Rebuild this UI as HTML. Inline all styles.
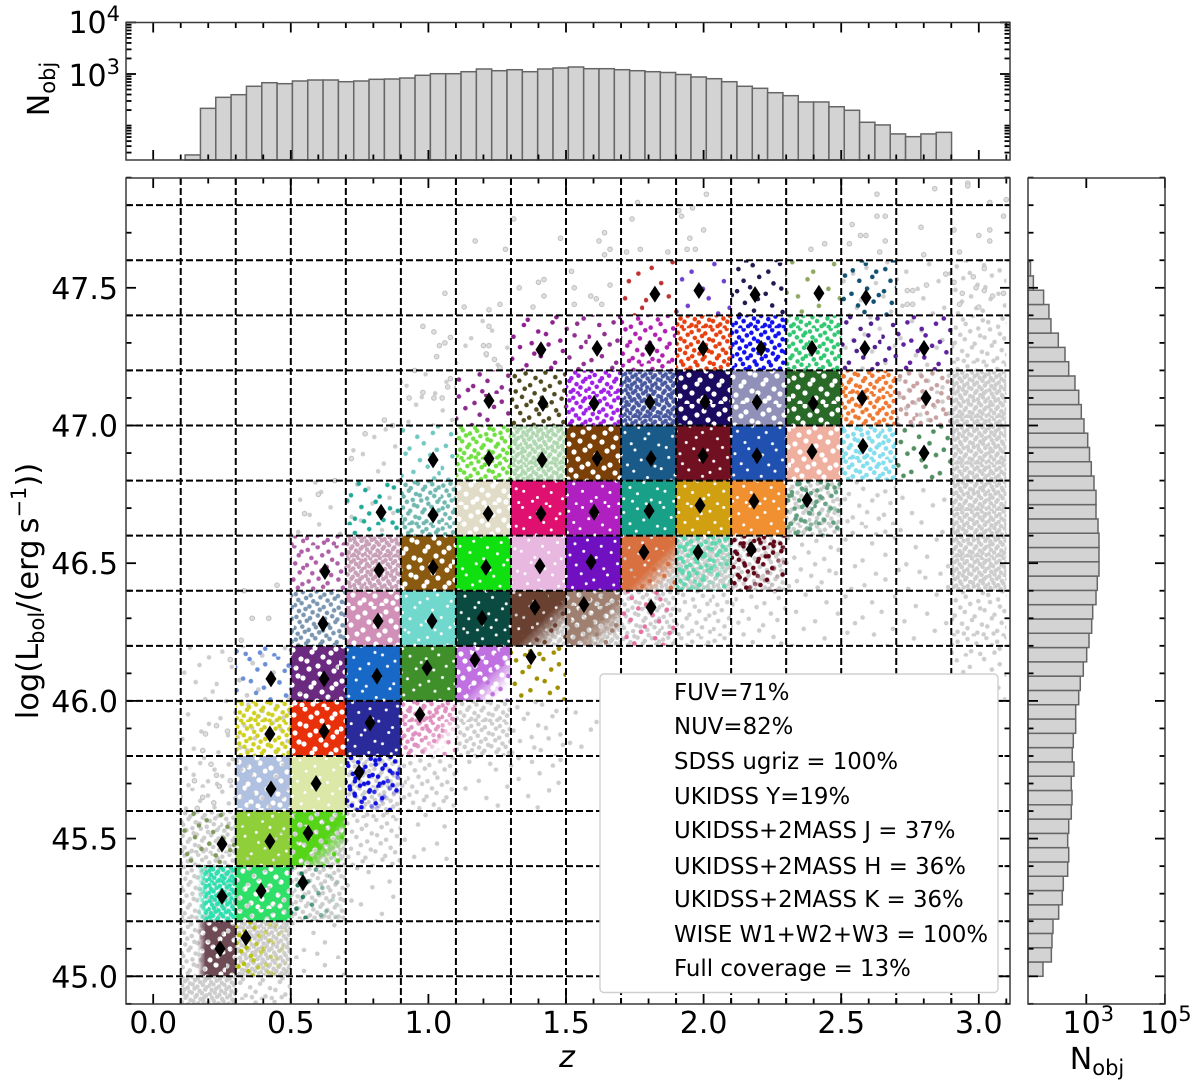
<!DOCTYPE html>
<html lang="en">
<head>
<meta charset="utf-8">
<title>Luminosity versus redshift binned scatter</title>
<style>
html,body{margin:0;padding:0;background:#fff;width:1200px;height:1091px;overflow:hidden}
svg{display:block}
text{font-family:"DejaVu Sans","Liberation Sans",sans-serif;fill:#000}
</style>
</head>
<body>
<svg id="fig" xmlns="http://www.w3.org/2000/svg" width="1200" height="1091" viewBox="0 0 1200 1091">
  <defs id="defs">
    <clipPath id="plotClip"><rect x="126" y="178" width="884" height="826"/></clipPath>
    <linearGradient id="gBR" x1="0.35" y1="0.35" x2="1" y2="1"><stop offset="0.3" stop-color="#fff"/><stop offset="0.75" stop-color="#000"/></linearGradient>
    <linearGradient id="gL" x1="1" y1="0" x2="0" y2="0"><stop offset="0.55" stop-color="#fff"/><stop offset="0.7" stop-color="#000"/></linearGradient>
    <linearGradient id="gR" x1="0" y1="0" x2="1" y2="0"><stop offset="0.2" stop-color="#fff"/><stop offset="1" stop-color="#000"/></linearGradient>
    <mask id="fade1" maskUnits="objectBoundingBox" maskContentUnits="objectBoundingBox" x="0" y="0" width="1" height="1"><rect width="1" height="1" fill="url(#gBR)"/></mask>
    <mask id="fade2" maskUnits="objectBoundingBox" maskContentUnits="objectBoundingBox" x="0" y="0" width="1" height="1"><rect width="1" height="1" fill="url(#gL)"/></mask>
    <mask id="fade3" maskUnits="objectBoundingBox" maskContentUnits="objectBoundingBox" x="0" y="0" width="1" height="1"><rect width="1" height="1" fill="url(#gR)"/></mask>
  </defs>

  <rect x="126" y="178" width="884" height="826" fill="#fff"/>
  <g id="scatter" clip-path="url(#plotClip)"></g>
  <g id="grid" clip-path="url(#plotClip)"></g>
  <g id="diamonds"></g>
  <g id="ticks"></g>

  <g id="topHist"></g>
  <g id="rightHist"></g>
  <g id="ticksHist"></g>

  <g>
    <rect x="600" y="674" width="398" height="318.500" rx="4" ry="4" fill="#fff" stroke="#cfcfcf" stroke-width="1.400"/>
    <g font-size="22.850">
      <text x="674" y="700">FUV=71%</text>
      <text x="674" y="734">NUV=82%</text>
      <text x="674" y="769">SDSS ugriz = 100%</text>
      <text x="674" y="804">UKIDSS Y=19%</text>
      <text x="674" y="838">UKIDSS+2MASS J = 37%</text>
      <text x="674" y="874">UKIDSS+2MASS H = 36%</text>
      <text x="674" y="907">UKIDSS+2MASS K = 36%</text>
      <text x="674" y="942">WISE W1+W2+W3 = 100%</text>
      <text x="674" y="976">Full coverage = 13%</text>
    </g>
  </g>

  <rect x="126" y="178" width="884" height="826" fill="none" stroke="#3a3a3a" stroke-width="1.500"/>
  <rect x="126" y="22.500" width="884" height="137.500" fill="none" stroke="#3a3a3a" stroke-width="1.500"/>
  <rect x="1028" y="178" width="137" height="826" fill="none" stroke="#3a3a3a" stroke-width="1.500"/>

  <g id="labels" font-size="30"></g>

  <text x="567" y="1067" font-size="30" font-style="italic" text-anchor="middle">z</text>
  <text transform="translate(38,591) rotate(-90)" font-size="30.500" text-anchor="middle">log(L<tspan font-size="21" dy="6">bol</tspan><tspan dy="-6">/(erg&#8201;s</tspan><tspan font-size="21" dy="-12">&#8722;1</tspan><tspan dy="12">))</tspan></text>
  <text transform="translate(49,89) rotate(-90)" font-size="30" text-anchor="middle">N<tspan font-size="21" dy="6">obj</tspan></text>
  <text x="1097" y="1069" font-size="30" text-anchor="middle">N<tspan font-size="21" dy="6">obj</tspan></text>
</svg>

<script>
/* ---------- data ---------- */
/* z histogram counts, 50 bins */
const zHistStart = 0.116;
const zHistWidth = 0.0557;
const zHistCounts = [27,216,353,397,578,678,649,732,765,765,709,732,789,800,836,944,1013,1013,1108,1250,1158,1211,1108,1250,1307,1367,1267,1267,1211,1158,1108,1069,978,875,811,709,578,528,434,380,287,287,232,198,116,103,69,61,69,74];

/* log L histogram counts, 50 bins from L = 45.0 */
const lHistStart = 45.0;
const lHistWidth = 0.0519;
const lHistCounts = [79,129,134,142,198,245,260,336,357,336,357,415,433,415,486,440,467,537,537,641,703,839,1023,1172,1371,1455,1766,1905,2104,2104,2104,1986,1766,1766,1570,1340,1206,1086,873,746,641,515,357,287,194,126,112,82,45,38];

/* colour-coded bins: lower-left corner, estimated objects, median position */
const cellZ = [.1,.3,.1,.3,.5,.1,.3,.5,.3,.5,.7,.3,.5,.7,.9,.3,.5,.7,.9,1.1,1.3,.5,.7,.9,1.1,1.3,1.5,1.7,.5,.7,.9,1.1,1.3,1.5,1.7,1.9,2.1,.7,.9,1.1,1.3,1.5,1.7,1.9,2.1,2.3,.9,1.1,1.3,1.5,1.7,1.9,2.1,2.3,2.5,2.7,1.1,1.3,1.5,1.7,1.9,2.1,2.3,2.5,2.7,1.3,1.5,1.7,1.9,2.1,2.3,2.5,2.7,1.7,1.9,2.1,2.3,2.5];
const cellL = [45,45,45.2,45.2,45.2,45.4,45.4,45.4,45.6,45.6,45.6,45.8,45.8,45.8,45.8,46,46,46,46,46,46,46.2,46.2,46.2,46.2,46.2,46.2,46.2,46.4,46.4,46.4,46.4,46.4,46.4,46.4,46.4,46.4,46.6,46.6,46.6,46.6,46.6,46.6,46.6,46.6,46.6,46.8,46.8,46.8,46.8,46.8,46.8,46.8,46.8,46.8,46.8,47,47,47,47,47,47,47,47,47,47.2,47.2,47.2,47.2,47.2,47.2,47.2,47.2,47.4,47.4,47.4,47.4,47.4];
const cellCount = [300,60,130,400,25,30,700,250,400,800,50,100,500,700,120,30,450,800,800,400,30,100,300,800,900,800,500,25,40,200,450,800,800,900,700,120,40,30,100,500,800,900,900,800,700,60,30,70,200,450,800,800,700,450,120,30,25,40,120,200,300,450,250,120,40,20,25,50,90,90,90,30,15,14,14,25,14,25];
const medianZ = [.243,.337,.25,.392,.544,.25,.424,.563,.428,.592,.748,.424,.621,.788,.969,.428,.621,.813,.995,1.169,1.373,.617,.817,1.013,1.195,1.387,1.565,1.809,.624,.821,1.017,1.209,1.405,1.591,1.783,1.98,2.173,.828,1.017,1.217,1.409,1.602,1.802,1.987,2.183,2.376,1.017,1.22,1.413,1.613,1.809,1.998,2.194,2.394,2.579,2.801,1.22,1.416,1.602,1.805,2.005,2.194,2.398,2.576,2.808,1.409,1.613,1.805,1.998,2.209,2.394,2.586,2.801,1.823,1.983,2.187,2.419,2.59];
const medianL = [45.10,45.14,45.29,45.31,45.34,45.48,45.49,45.52,45.68,45.70,45.74,45.88,45.89,45.92,45.95,46.08,46.08,46.09,46.12,46.15,46.16,46.28,46.29,46.29,46.30,46.34,46.35,46.34,46.47,46.475,46.485,46.485,46.49,46.505,46.54,46.54,46.55,46.685,46.675,46.68,46.68,46.685,46.69,46.71,46.725,46.73,46.875,46.88,46.875,46.88,46.88,46.89,46.89,46.905,46.925,46.90,47.09,47.08,47.08,47.085,47.085,47.085,47.08,47.10,47.10,47.275,47.28,47.28,47.28,47.28,47.28,47.28,47.28,47.477,47.49,47.475,47.48,47.465];

/* objects outside the selection, binned the same way */
const restZ = [2.9,2.9,2.9,2.9,2.9,2.9,2.9,2.9,.1,.3,.1,.3,.5,.1,.3,.5,.7,.1,.3,.5,.7,.9,.1,.3,.7,.9,1.1,1.3,.1,.3,1.1,1.3,1.5,1.7,1.9,.3,.5,1.3,1.5,1.7,1.9,2.1,2.3,2.5,2.7,1.7,1.9,2.1,2.3,2.5,2.7,2.3,2.5,2.7,.5,.7,2.5,2.7,.7,2.7,.9,1.1,2.7,2.5,2.5,2.7,.1,.3,.5];
const restL = [46.0,46.2,46.4,46.6,46.8,47.0,47.2,47.4,44.8,44.8,45,45,45,45.2,45.2,45.2,45.2,45.4,45.4,45.4,45.4,45.4,45.6,45.6,45.6,45.6,45.6,45.6,45.8,45.8,45.8,45.8,45.8,45.8,45.8,46,46,46.2,46.2,46.2,46.2,46.2,46.2,46.2,46.2,46.4,46.4,46.4,46.4,46.4,46.4,46.6,46.6,46.6,46.6,46.6,46.8,46.8,46.8,47,47,47.2,47.2,47.2,47.4,47.4,46.0,46.0,46.0];
const restCount = [30,60,240,240,240,200,60,25,170,40,80,240,14,80,120,120,14,100,120,230,60,14,30,60,120,60,14,14,14,30,100,30,14,14,14,14,14,240,240,120,40,30,14,14,14,230,230,80,30,14,14,80,30,14,14,14,90,30,14,30,14,14,14,14,14,14,14,14,14];

/* individually readable outlying objects */
const outlierZ = [2.01,1.76,1.91,1.92,1.96,2.00,1.95,1.74,1.31,1.17,1.28,1.48,1.64,1.62,1.66,1.64,1.72,1.77,1.87,1.94,1.97,1.06,1.13,1.22,1.26,1.33,1.40,1.42,1.42,1.52,1.53,1.59,1.61,1.53,1.66,1.63,1.38,.98,1.02,1.04,1.06,1.08,1.03,1.22,1.20,1.22,1.21,1.24,1.26,.98,.93,1.02,1.05,1.07,1.08,2.96,2.96,2.84,2.63,3.04,3.10,2.54,2.63,2.66,2.79,2.91,3.04,3.09,2.57,2.59,2.66,3.00,3.04,2.53,2.39,2.44,2.64,2.80,2.93,2.81,2.76,2.74,2.76,2.74,2.88,2.91,2.94,2.99,3.02,3.05,2.98,3.02,3.09,2.93,3.00,.23,.19,.27,.18,.21,.15,.18,.24,.28,.16,.22,.23,.32,.36,.42,.45,.28,.33,.5,.55,.6,.66,.72,.77,.84,.87,.95];
const outlierL = [47.84,47.81,47.78,47.76,47.79,47.71,47.68,47.75,47.75,47.67,47.64,47.68,47.70,47.67,47.64,47.62,47.63,47.64,47.63,47.64,47.64,47.48,47.43,47.42,47.44,47.50,47.52,47.53,47.47,47.56,47.50,47.47,47.46,47.44,47.51,47.44,47.43,47.36,47.34,47.29,47.30,47.32,47.25,47.36,47.29,47.29,47.26,47.24,47.21,47.12,47.10,47.10,47.10,47.14,47.17,47.88,47.87,47.86,47.84,47.81,47.82,47.73,47.76,47.76,47.72,47.71,47.71,47.76,47.69,47.69,47.67,47.69,47.67,47.66,47.64,47.66,47.63,47.62,47.63,47.51,47.49,47.49,47.44,47.44,47.55,47.52,47.48,47.50,47.49,47.47,47.54,47.57,47.48,47.44,47.43,45.91,45.88,45.89,45.82,45.77,45.71,45.65,45.69,45.71,45.61,45.63,45.73,46.22,46.3,46.3,46.42,46.15,46.4,46.6,46.68,46.75,46.8,46.88,46.97,47.02,47.0,47.2];

/* tick labels */
const xTickValues = [0,0.5,1,1.5,2,2.5,3];
const xTickLabels = ["0.0","0.5","1.0","1.5","2.0","2.5","3.0"];
const yTickValues = [45,45.5,46,46.5,47,47.5];
const yTickLabels = ["45.0","45.5","46.0","46.5","47.0","47.5"];
const gridZ = [.1,.3,.5,.7,.9,1.1,1.3,1.5,1.7,1.9,2.1,2.3,2.5,2.7,2.9];
const gridL = [45,45.2,45.4,45.6,45.8,46,46.2,46.4,46.6,46.8,47,47.2,47.4,47.6,47.8];

/* ---------- styling, kept apart from the data ---------- */
const cellPalette = ["#6e4a55","#b5c000","#2de0b0","#2fe068","#1f7a60","#7f9a5c","#8fd03a","#55d418","#b0c0e0","#dbe8a8","#1010e0","#d0d020","#e8300a","#2a2a9a","#e090c0","#6a8fd8","#6a2a80","#1868c8","#3f8f2a","#c070e0","#a09000","#7a96b0","#d090b8","#70d8cc","#0a4a40","#6a4030","#a08070","#e870a0","#b060a8","#c8a0b8","#8a5a10","#10e010","#e8b8e0","#7010c0","#d87040","#60d8b0","#600818","#20a898","#70b8b0","#e0dcc8","#e01070","#b020c0","#18a088","#d0a010","#f09030","#60a080","#70c8c0","#70e040","#b0d8b0","#7a4008","#1a5a88","#701020","#2050b0","#f0b0a0","#80e0f0","#509060","#8a2a8a","#504a20","#a020e8","#4858a0","#1a0a60","#9090b8","#2a6a28","#f07830","#c8a0a0","#902090","#903090","#b020b0","#e84010","#1010f0","#30c870","#502090","#6020a0","#c03030","#7040d0","#201a50","#90a860","#105070"];
const cellFadeStyle = {0:2,1:3,2:2,4:3,7:1,10:1,14:1,19:1,25:1,26:1,34:1,35:1,36:1,45:1};

/* hand-placed speckle used as a dot texture, in tile units */
const speckleTile = [[3,5],[14,2],[26,7],[35,1],[47,6],[58,3],[68,8],[79,2],[91,6],[101,1],[109,7],
[7,14],[19,11],[30,16],[41,10],[52,15],[63,12],[74,17],[85,10],[96,14],[106,11],
[2,22],[12,19],[24,24],[36,20],[46,25],[57,21],[69,26],[80,19],[90,24],[102,20],[111,25],
[8,31],[18,28],[29,33],[40,29],[51,34],[62,30],[73,35],[84,28],[95,33],[107,30],
[4,40],[15,37],[25,42],[37,38],[48,43],[59,39],[67,44],[78,37],[89,42],[100,38],[110,43],
[9,48],[20,46],[31,51],[42,47],[53,52],[64,48],[75,53],[86,46],[97,51],[105,47],
[1,57],[13,55],[23,60],[34,56],[45,61],[56,57],[70,62],[81,55],[92,60],[103,56],[112,61],
[6,66],[17,63],[28,68],[39,64],[50,69],[61,65],[72,70],[83,63],[94,68],[108,65],
[3,75],[11,72],[22,77],[33,73],[44,78],[55,74],[66,79],[77,72],[88,77],[99,73],[110,78],
[7,84],[19,81],[30,86],[41,82],[52,87],[63,83],[74,88],[85,81],[96,86],[106,82],
[2,93],[14,90],[25,95],[36,91],[47,96],[58,92],[69,97],[80,90],[91,95],[102,91],[111,96],
[9,100],[21,98],[32,99],[43,100],[54,98],[65,100],[76,99],[87,98],[98,100]];
const densityScale = [1.9,1.3,.9,.65,.46];
const densityLimit = [14,30,60,120,240,500];

/* ---------- axis functions ---------- */
const X = z => 153.2 + 275.2 * z;
const Y = L => 976.3 - 275.4 * (L - 45);
const TY = n => 74 - 51.6 * (Math.log10(n) - 3);
const RX = n => 1086.3 + 39.3 * (Math.log10(n) - 3);
const NS = "http://www.w3.org/2000/svg";
const mk = (tag, parent, attrs) => { const e = document.createElementNS(NS, tag); for (const k in attrs) e.setAttribute(k, attrs[k]); parent.appendChild(e); return e; };

/* ---------- dot-density textures ---------- */
const defs = document.getElementById("defs");
function densityMask(id, scale, radius, inverse) {
  const w = 113 * scale, h = 101 * scale;
  const p = mk("pattern", defs, {id: "p" + id, patternUnits: "userSpaceOnUse", x: 0, y: 0, width: w, height: h});
  if (inverse) mk("rect", p, {width: w, height: h, fill: "#fff"});
  speckleTile.forEach(s => mk("circle", p, {cx: s[0] * scale, cy: s[1] * scale, r: radius, fill: inverse ? "#000" : "#fff"}));
  const m = mk("mask", defs, {id: "m" + id, maskUnits: "userSpaceOnUse", x: 0, y: 0, width: 1200, height: 1091});
  mk("rect", m, {width: 1200, height: 1091, fill: "url(#p" + id + ")"});
}
densityScale.forEach((s, i) => densityMask(i, s, 2.3, false));
densityMask(5, 1, 2.6, true);
densityMask(6, 1.25, 1.5, true);
const densityLevel = c => { let i = 0; while (i < densityLimit.length && c > densityLimit[i]) i++; return i; };

/* ---------- scatter layer ---------- */
const scatter = document.getElementById("scatter");
const binW = 0.2, binH = 0.2;

restZ.forEach((z, i) => {
  const r = mk("rect", scatter, {x: X(z), y: Y(restL[i] + binH), width: X(z + binW) - X(z), height: Y(restL[i]) - Y(restL[i] + binH), fill: "#cdcdcd", mask: "url(#m" + densityLevel(restCount[i]) + ")"});
  
  
});

outlierZ.forEach((z, i) => {
  const c = mk("circle", scatter, {cx: X(z), cy: Y(outlierL[i]), r: 2.3, fill: "#dedede", stroke: "#c0c0c0", "stroke-width": 1});
  
  
});

cellZ.forEach((z, i) => {
  const attrs = {x: X(z), y: Y(cellL[i] + binH), width: X(z + binW) - X(z), height: Y(cellL[i]) - Y(cellL[i] + binH), fill: cellPalette[i]};
  const fade = cellFadeStyle[i];
  if (fade === 1) {
    const thin = mk("rect", scatter, Object.assign({}, attrs, {mask: "url(#m1)"}));
    
    
  }
  const g = mk("g", scatter, {});
  
  
  if (fade) g.setAttribute("mask", "url(#fade" + fade + ")");
  mk("rect", g, Object.assign({}, attrs, {mask: "url(#m" + densityLevel(cellCount[i]) + ")"}));
});

/* ---------- dashed bin grid ---------- */
const grid = document.getElementById("grid");
gridZ.forEach(z => {
  const l = mk("line", grid, {x1: X(z), x2: X(z), y1: 178, y2: 1004, stroke: "#000", "stroke-width": 2, "stroke-dasharray": "7 3"});
  
  
});
gridL.forEach(v => {
  const l = mk("line", grid, {x1: 126, x2: 1010, y1: Y(v), y2: Y(v), stroke: "#000", "stroke-width": 2, "stroke-dasharray": "7 3"});
  
  
});

/* ---------- medians ---------- */
const diamonds = document.getElementById("diamonds");
medianZ.forEach((z, i) => {
  const x = X(z), y = Y(medianL[i]);
  const d = mk("polygon", diamonds, {points: `${x},${y - 8.5} ${x + 5.5},${y} ${x},${y + 8.5} ${x - 5.5},${y}`, fill: "#000"});
  
  
});

/* ---------- histograms ---------- */
const topHist = document.getElementById("topHist");
zHistCounts.forEach((n, i) => {
  const x0 = X(zHistStart + i * zHistWidth), x1 = X(zHistStart + (i + 1) * zHistWidth), y = TY(n);
  const b = mk("rect", topHist, {x: x0, y: y, width: x1 - x0, height: 160 - y, fill: "#d3d3d3", stroke: "#666", "stroke-width": 1.5});
  
  
});
const rightHist = document.getElementById("rightHist");
lHistCounts.forEach((n, i) => {
  const y1 = Y(lHistStart + i * lHistWidth), y0 = Y(lHistStart + (i + 1) * lHistWidth), x = RX(n);
  const b = mk("rect", rightHist, {x: 1028, y: y0, width: x - 1028, height: y1 - y0, fill: "#d3d3d3", stroke: "#666", "stroke-width": 1.5});
  
  
});

/* ---------- ticks ---------- */
const tickG = document.getElementById("ticks"), tickH = document.getElementById("ticksHist");
const seg = (p, x1, y1, x2, y2) => mk("line", p, {x1, y1, x2, y2, stroke: "#000", "stroke-width": 1.8});
for (let k = 0; k <= 31; k++) {
  const z = k / 10, x = X(z), len = k % 5 === 0 ? 10 : 5.5;
  seg(tickG, x, 1004, x, 1004 - len); seg(tickG, x, 178, x, 178 + len);
  seg(tickH, x, 160, x, 160 - len); seg(tickH, x, 22.5, x, 22.5 + len);
}
for (let k = 449; k <= 479; k++) {
  const y = Y(k / 10), len = k % 5 === 0 ? 10 : 5.5;
  seg(tickG, 126, y, 126 + len, y); seg(tickG, 1010, y, 1010 - len, y);
  seg(tickH, 1028, y, 1028 + len, y); seg(tickH, 1165, y, 1165 - len, y);
}
[1, 2, 3].forEach(d => {
  for (let m = 1; m <= 9; m++) {
    const n = m * Math.pow(10, d), y = TY(n);
    if (y > 160 || (m === 1 && d === 3)) continue;
    seg(tickH, 126, y, 131.5, y); seg(tickH, 1010, y, 1004.500, y);
  }
});
[3, 4].forEach(d => {
  const y = TY(Math.pow(10, d));
  seg(tickH, 126, y, 136, y); seg(tickH, 1010, y, 1000, y);
});
[3, 5].forEach(d => {
  const x = RX(Math.pow(10, d));
  seg(tickH, x, 1004, x, 994); seg(tickH, x, 178, x, 188);
});

/* ---------- tick labels ---------- */
const labels = document.getElementById("labels");
xTickValues.forEach((v, i) => {
  const t = mk("text", labels, {x: X(v), y: 1033, "text-anchor": "middle"});
  
  
  t.textContent = xTickLabels[i];
});
yTickValues.forEach((v, i) => {
  const t = mk("text", labels, {x: 118, y: Y(v) + 11, "text-anchor": "end"});
  
  
  t.textContent = yTickLabels[i];
});
function powerLabel(parent, x, y, anchor, exponent) {
  const t = mk("text", parent, {x, y, "text-anchor": anchor});
  
  
  t.appendChild(document.createTextNode("10"));
  const s = mk("tspan", t, {"font-size": 21, dy: -12});
  s.textContent = exponent;
  return t;
}
powerLabel(labels, 120, TY(1e3) + 12, "end", "3");
powerLabel(labels, 120, TY(1e4) + 10.5, "end", "4");
powerLabel(labels, RX(1e3) + 2, 1033, "middle", "3");
powerLabel(labels, RX(1e5) + 1, 1033, "middle", "5");
</script>
</body>
</html>
